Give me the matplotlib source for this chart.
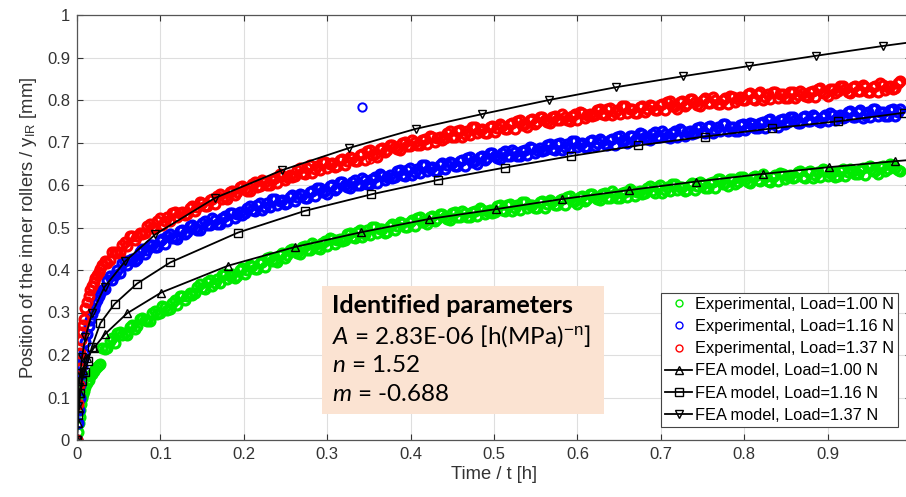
import matplotlib
matplotlib.use("Agg")
import matplotlib.pyplot as plt
from matplotlib.patches import Rectangle
from matplotlib.ticker import FuncFormatter

plt.rcParams['font.family'] = ['Liberation Sans', 'DejaVu Sans']
plt.rcParams['mathtext.fontset'] = 'custom'
plt.rcParams['mathtext.rm'] = 'Liberation Sans'
plt.rcParams['mathtext.it'] = 'Lato:italic'
plt.rcParams['mathtext.bf'] = 'Liberation Sans:bold'

# ---- experimental samples (time in h, position in mm) ----
t_exp = [0.000, 0.001, 0.002, 0.003, 0.004, 0.005, 0.006, 0.007, 0.008, 0.010,
         0.012, 0.014, 0.016, 0.018, 0.020, 0.022, 0.024, 0.026, 0.028,
         0.030, 0.036, 0.042, 0.048, 0.054, 0.060, 0.066, 0.072, 0.078, 0.084,
         0.090, 0.096, 0.102, 0.108, 0.114, 0.120, 0.126, 0.132, 0.138, 0.144,
         0.150, 0.156, 0.162, 0.168, 0.174, 0.180, 0.186, 0.192, 0.198, 0.204,
         0.210, 0.216, 0.222, 0.228, 0.234, 0.240, 0.246, 0.252, 0.258, 0.264,
         0.270, 0.276, 0.282, 0.288, 0.294, 0.300, 0.306, 0.312, 0.318, 0.324,
         0.330, 0.336, 0.342, 0.348, 0.354, 0.360, 0.366, 0.372, 0.378, 0.384,
         0.390, 0.396, 0.402, 0.408, 0.414, 0.420, 0.426, 0.432, 0.438, 0.444,
         0.450, 0.456, 0.462, 0.468, 0.474, 0.480, 0.486, 0.492, 0.498, 0.504,
         0.510, 0.516, 0.522, 0.528, 0.534, 0.540, 0.546, 0.552, 0.558, 0.564,
         0.570, 0.576, 0.582, 0.588, 0.594, 0.600, 0.606, 0.612, 0.618, 0.624,
         0.630, 0.636, 0.642, 0.648, 0.654, 0.660, 0.666, 0.672, 0.678, 0.684,
         0.690, 0.696, 0.702, 0.708, 0.714, 0.720, 0.726, 0.732, 0.738, 0.744,
         0.750, 0.756, 0.762, 0.768, 0.774, 0.780, 0.786, 0.792, 0.798, 0.804,
         0.810, 0.816, 0.822, 0.828, 0.834, 0.840, 0.846, 0.852, 0.858, 0.864,
         0.870, 0.876, 0.882, 0.888, 0.894, 0.900, 0.906, 0.912, 0.918, 0.924,
         0.930, 0.936, 0.942, 0.948, 0.954, 0.960, 0.966, 0.972, 0.978, 0.984]

y_exp_100 = [0.000, 0.020, 0.040, 0.055, 0.070, 0.085, 0.100, 0.108, 0.115, 0.125,
             0.134, 0.142, 0.150, 0.156, 0.162, 0.166, 0.171, 0.176, 0.180,
             0.217, 0.217, 0.239, 0.251, 0.247, 0.248, 0.271, 0.269, 0.286, 0.280,
             0.298, 0.296, 0.316, 0.307, 0.322, 0.318, 0.339, 0.340, 0.342, 0.361,
             0.357, 0.372, 0.362, 0.378, 0.389, 0.378, 0.390, 0.385, 0.404, 0.401,
             0.409, 0.403, 0.420, 0.428, 0.421, 0.418, 0.439, 0.435, 0.450, 0.440,
             0.453, 0.447, 0.463, 0.451, 0.463, 0.456, 0.473, 0.471, 0.469, 0.485,
             0.477, 0.490, 0.478, 0.493, 0.501, 0.488, 0.497, 0.490, 0.508, 0.503,
             0.510, 0.502, 0.517, 0.522, 0.513, 0.508, 0.526, 0.520, 0.532, 0.520,
             0.533, 0.525, 0.539, 0.525, 0.536, 0.526, 0.542, 0.539, 0.535, 0.550,
             0.541, 0.552, 0.539, 0.552, 0.560, 0.545, 0.554, 0.546, 0.562, 0.556,
             0.561, 0.552, 0.567, 0.571, 0.562, 0.556, 0.574, 0.568, 0.579, 0.567,
             0.579, 0.570, 0.585, 0.570, 0.581, 0.571, 0.587, 0.583, 0.579, 0.594,
             0.585, 0.596, 0.582, 0.596, 0.603, 0.588, 0.596, 0.588, 0.604, 0.597,
             0.603, 0.594, 0.608, 0.613, 0.603, 0.597, 0.615, 0.608, 0.620, 0.607,
             0.620, 0.611, 0.625, 0.610, 0.620, 0.610, 0.625, 0.621, 0.617, 0.631,
             0.620, 0.631, 0.617, 0.630, 0.637, 0.622, 0.630, 0.621, 0.637, 0.630,
             0.634, 0.625, 0.639, 0.643, 0.633, 0.627, 0.645, 0.638, 0.648, 0.635]

y_exp_116 = [0.000, 0.040, 0.070, 0.100, 0.130, 0.155, 0.175, 0.190, 0.205, 0.230,
             0.250, 0.268, 0.283, 0.297, 0.309, 0.320, 0.330, 0.339, 0.347,
             0.352, 0.377, 0.376, 0.400, 0.416, 0.411, 0.427, 0.426, 0.449, 0.448,
             0.459, 0.455, 0.474, 0.481, 0.475, 0.472, 0.494, 0.490, 0.505, 0.495,
             0.511, 0.505, 0.522, 0.509, 0.522, 0.515, 0.533, 0.532, 0.530, 0.547,
             0.540, 0.553, 0.541, 0.557, 0.566, 0.554, 0.564, 0.557, 0.576, 0.571,
             0.577, 0.570, 0.586, 0.592, 0.583, 0.579, 0.599, 0.594, 0.606, 0.595,
             0.608, 0.600, 0.616, 0.602, 0.614, 0.605, 0.622, 0.619, 0.617, 0.632,
             0.624, 0.636, 0.624, 0.638, 0.646, 0.633, 0.642, 0.634, 0.651, 0.646,
             0.652, 0.644, 0.659, 0.664, 0.655, 0.650, 0.669, 0.663, 0.675, 0.663,
             0.676, 0.668, 0.683, 0.669, 0.679, 0.670, 0.686, 0.683, 0.680, 0.694,
             0.684, 0.696, 0.682, 0.696, 0.703, 0.689, 0.698, 0.689, 0.706, 0.699,
             0.704, 0.695, 0.709, 0.714, 0.704, 0.698, 0.716, 0.710, 0.721, 0.708,
             0.721, 0.712, 0.726, 0.712, 0.722, 0.712, 0.727, 0.724, 0.720, 0.734,
             0.725, 0.736, 0.723, 0.736, 0.743, 0.728, 0.736, 0.728, 0.744, 0.737,
             0.743, 0.734, 0.749, 0.753, 0.743, 0.737, 0.755, 0.749, 0.760, 0.747,
             0.760, 0.751, 0.765, 0.750, 0.760, 0.750, 0.765, 0.761, 0.757, 0.771,
             0.761, 0.772, 0.758, 0.771, 0.778, 0.763, 0.771, 0.762, 0.778, 0.771]

y_exp_137 = [0.000, 0.085, 0.130, 0.170, 0.205, 0.235, 0.255, 0.270, 0.285, 0.310,
             0.325, 0.340, 0.352, 0.363, 0.372, 0.381, 0.389, 0.396, 0.402,
             0.411, 0.417, 0.443, 0.439, 0.458, 0.457, 0.479, 0.481, 0.484, 0.503,
             0.499, 0.516, 0.507, 0.524, 0.535, 0.524, 0.536, 0.531, 0.551, 0.548,
             0.557, 0.551, 0.568, 0.575, 0.568, 0.566, 0.587, 0.583, 0.597, 0.587,
             0.602, 0.596, 0.612, 0.600, 0.612, 0.605, 0.622, 0.620, 0.619, 0.636,
             0.628, 0.641, 0.629, 0.644, 0.654, 0.641, 0.651, 0.644, 0.662, 0.657,
             0.664, 0.657, 0.673, 0.679, 0.671, 0.667, 0.687, 0.682, 0.695, 0.684,
             0.698, 0.691, 0.707, 0.693, 0.705, 0.696, 0.712, 0.710, 0.707, 0.723,
             0.714, 0.726, 0.713, 0.728, 0.736, 0.722, 0.731, 0.723, 0.740, 0.734,
             0.740, 0.732, 0.746, 0.751, 0.742, 0.736, 0.755, 0.749, 0.760, 0.748,
             0.760, 0.752, 0.766, 0.752, 0.762, 0.753, 0.769, 0.765, 0.762, 0.776,
             0.766, 0.778, 0.764, 0.777, 0.785, 0.770, 0.779, 0.770, 0.786, 0.780,
             0.785, 0.776, 0.791, 0.795, 0.785, 0.779, 0.797, 0.791, 0.802, 0.789,
             0.801, 0.792, 0.806, 0.791, 0.801, 0.791, 0.807, 0.803, 0.799, 0.813,
             0.803, 0.814, 0.800, 0.813, 0.820, 0.805, 0.813, 0.804, 0.820, 0.812,
             0.817, 0.808, 0.822, 0.826, 0.816, 0.809, 0.827, 0.821, 0.832, 0.819,
             0.830, 0.821, 0.835, 0.820, 0.830, 0.820, 0.835, 0.831, 0.827, 0.841]

# in-between samples of the same runs
t_exp_b = [0.033, 0.039, 0.045, 0.051, 0.057, 0.063, 0.069, 0.075, 0.081, 0.087,
           0.093, 0.099, 0.105, 0.111, 0.117, 0.123, 0.129, 0.135, 0.141, 0.147,
           0.153, 0.159, 0.165, 0.171, 0.177, 0.183, 0.189, 0.195, 0.201, 0.207,
           0.213, 0.219, 0.225, 0.231, 0.237, 0.243, 0.249, 0.255, 0.261, 0.267,
           0.273, 0.279, 0.285, 0.291, 0.297, 0.303, 0.309, 0.315, 0.321, 0.327,
           0.333, 0.339, 0.345, 0.351, 0.357, 0.363, 0.369, 0.375, 0.381, 0.387,
           0.393, 0.399, 0.405, 0.411, 0.417, 0.423, 0.429, 0.435, 0.441, 0.447,
           0.453, 0.459, 0.465, 0.471, 0.477, 0.483, 0.489, 0.495, 0.501, 0.507,
           0.513, 0.519, 0.525, 0.531, 0.537, 0.543, 0.549, 0.555, 0.561, 0.567,
           0.573, 0.579, 0.585, 0.591, 0.597, 0.603, 0.609, 0.615, 0.621, 0.627,
           0.633, 0.639, 0.645, 0.651, 0.657, 0.663, 0.669, 0.675, 0.681, 0.687,
           0.693, 0.699, 0.705, 0.711, 0.717, 0.723, 0.729, 0.735, 0.741, 0.747,
           0.753, 0.759, 0.765, 0.771, 0.777, 0.783, 0.789, 0.795, 0.801, 0.807,
           0.813, 0.819, 0.825, 0.831, 0.837, 0.843, 0.849, 0.855, 0.861, 0.867,
           0.873, 0.879, 0.885, 0.891, 0.897, 0.903, 0.909, 0.915, 0.921, 0.927,
           0.933, 0.939, 0.945, 0.951, 0.957, 0.963, 0.969, 0.975, 0.981, 0.987]

y_exp_b_100 = [0.213, 0.233, 0.228, 0.255, 0.252, 0.267, 0.262, 0.284, 0.282, 0.280,
               0.304, 0.298, 0.313, 0.308, 0.329, 0.339, 0.330, 0.345, 0.346, 0.367,
               0.356, 0.377, 0.370, 0.370, 0.391, 0.387, 0.382, 0.400, 0.391, 0.411,
               0.402, 0.416, 0.407, 0.431, 0.424, 0.436, 0.429, 0.448, 0.444, 0.438,
               0.457, 0.447, 0.459, 0.450, 0.468, 0.475, 0.462, 0.474, 0.471, 0.488,
               0.475, 0.494, 0.485, 0.483, 0.501, 0.496, 0.488, 0.504, 0.493, 0.512,
               0.502, 0.514, 0.503, 0.524, 0.515, 0.524, 0.515, 0.532, 0.525, 0.518,
               0.536, 0.524, 0.534, 0.524, 0.539, 0.545, 0.531, 0.541, 0.537, 0.553,
               0.538, 0.556, 0.545, 0.542, 0.559, 0.553, 0.545, 0.559, 0.547, 0.564,
               0.552, 0.564, 0.552, 0.573, 0.563, 0.572, 0.563, 0.579, 0.572, 0.564,
               0.581, 0.570, 0.579, 0.569, 0.584, 0.590, 0.575, 0.585, 0.581, 0.597,
               0.582, 0.599, 0.589, 0.585, 0.602, 0.595, 0.587, 0.601, 0.588, 0.606,
               0.594, 0.605, 0.594, 0.614, 0.604, 0.613, 0.603, 0.620, 0.612, 0.605,
               0.622, 0.610, 0.619, 0.608, 0.623, 0.628, 0.613, 0.623, 0.618, 0.633,
               0.617, 0.634, 0.623, 0.619, 0.636, 0.629, 0.620, 0.634, 0.621, 0.638,
               0.625, 0.636, 0.624, 0.644, 0.634, 0.643, 0.633, 0.649, 0.641, 0.632]

y_exp_b_116 = [0.356, 0.387, 0.388, 0.394, 0.421, 0.423, 0.422, 0.443, 0.437, 0.460,
               0.453, 0.469, 0.461, 0.485, 0.478, 0.491, 0.484, 0.504, 0.499, 0.495,
               0.515, 0.506, 0.518, 0.509, 0.527, 0.535, 0.523, 0.536, 0.533, 0.551,
               0.539, 0.558, 0.549, 0.548, 0.567, 0.563, 0.556, 0.572, 0.562, 0.580,
               0.570, 0.583, 0.573, 0.594, 0.586, 0.597, 0.589, 0.606, 0.600, 0.593,
               0.611, 0.601, 0.611, 0.602, 0.618, 0.625, 0.611, 0.623, 0.619, 0.636,
               0.622, 0.641, 0.631, 0.628, 0.647, 0.641, 0.633, 0.648, 0.637, 0.655,
               0.644, 0.656, 0.645, 0.666, 0.657, 0.667, 0.658, 0.675, 0.668, 0.661,
               0.679, 0.668, 0.678, 0.668, 0.683, 0.689, 0.675, 0.686, 0.682, 0.697,
               0.682, 0.700, 0.689, 0.686, 0.703, 0.697, 0.689, 0.703, 0.691, 0.708,
               0.696, 0.707, 0.695, 0.716, 0.706, 0.715, 0.705, 0.722, 0.714, 0.706,
               0.724, 0.712, 0.721, 0.711, 0.726, 0.731, 0.716, 0.727, 0.722, 0.737,
               0.723, 0.740, 0.730, 0.726, 0.743, 0.736, 0.727, 0.742, 0.729, 0.746,
               0.735, 0.746, 0.735, 0.755, 0.745, 0.754, 0.744, 0.761, 0.753, 0.745,
               0.763, 0.751, 0.760, 0.749, 0.764, 0.769, 0.754, 0.764, 0.759, 0.774,
               0.759, 0.776, 0.765, 0.761, 0.778, 0.771, 0.762, 0.776, 0.763, 0.780]

y_exp_b_137 = [0.421, 0.423, 0.443, 0.442, 0.466, 0.479, 0.471, 0.487, 0.488, 0.509,
               0.500, 0.522, 0.516, 0.516, 0.537, 0.534, 0.529, 0.547, 0.538, 0.559,
               0.550, 0.564, 0.555, 0.578, 0.572, 0.584, 0.577, 0.596, 0.591, 0.586,
               0.606, 0.597, 0.608, 0.600, 0.617, 0.625, 0.612, 0.624, 0.622, 0.640,
               0.627, 0.646, 0.637, 0.635, 0.655, 0.650, 0.643, 0.659, 0.648, 0.667,
               0.657, 0.670, 0.660, 0.682, 0.674, 0.685, 0.677, 0.695, 0.689, 0.683,
               0.702, 0.692, 0.702, 0.693, 0.709, 0.715, 0.702, 0.713, 0.710, 0.726,
               0.712, 0.730, 0.721, 0.718, 0.736, 0.730, 0.722, 0.737, 0.725, 0.743,
               0.732, 0.744, 0.732, 0.753, 0.744, 0.753, 0.744, 0.761, 0.753, 0.746,
               0.763, 0.752, 0.761, 0.751, 0.766, 0.772, 0.758, 0.768, 0.764, 0.779,
               0.764, 0.782, 0.771, 0.767, 0.785, 0.778, 0.770, 0.784, 0.771, 0.789,
               0.777, 0.788, 0.777, 0.797, 0.787, 0.796, 0.786, 0.803, 0.795, 0.787,
               0.804, 0.792, 0.801, 0.790, 0.805, 0.810, 0.796, 0.806, 0.801, 0.816,
               0.801, 0.818, 0.807, 0.803, 0.820, 0.813, 0.804, 0.818, 0.804, 0.821,
               0.809, 0.820, 0.808, 0.828, 0.817, 0.826, 0.816, 0.833, 0.825, 0.816,
               0.833, 0.821, 0.830, 0.819, 0.834, 0.839, 0.824, 0.834, 0.829, 0.844]

# stray readings
outlier_t_116 = [0.342]
outlier_y_116 = [0.784]
outlier_t_137 = [0.351]
outlier_y_137 = [0.661]

# ---- FEA model curves ----
fea_t_100 = [0.0, 0.001, 0.002, 0.004, 0.007, 0.012, 0.020, 0.034, 0.060, 0.101,
             0.181, 0.261, 0.341, 0.422, 0.502, 0.582, 0.662, 0.742, 0.822, 0.902,
             0.981, 1.061]
fea_y_100 = [0.0, 0.040, 0.075, 0.110, 0.165, 0.193, 0.216, 0.250, 0.298, 0.347,
             0.410, 0.454, 0.489, 0.520, 0.543, 0.567, 0.588, 0.608, 0.626, 0.642,
             0.656, 0.669]

fea_t_116 = [0.0, 0.001, 0.003, 0.006, 0.009, 0.013, 0.018, 0.028, 0.045, 0.072,
             0.112, 0.193, 0.273, 0.353, 0.433, 0.513, 0.592, 0.673, 0.753, 0.833,
             0.913, 0.992]
fea_y_116 = [0.0, 0.060, 0.110, 0.140, 0.160, 0.185, 0.220, 0.275, 0.320, 0.368,
             0.418, 0.488, 0.539, 0.578, 0.612, 0.641, 0.668, 0.693, 0.714, 0.733,
             0.750, 0.770]

fea_t_137 = [0.0, 0.001, 0.002, 0.004, 0.006, 0.010, 0.018, 0.033, 0.058, 0.094,
             0.165, 0.246, 0.326, 0.406, 0.486, 0.566, 0.646, 0.727, 0.806, 0.886,
             0.966, 1.046]
fea_y_137 = [0.0, 0.080, 0.125, 0.157, 0.195, 0.242, 0.298, 0.360, 0.421, 0.484,
             0.569, 0.635, 0.687, 0.732, 0.767, 0.800, 0.830, 0.856, 0.880, 0.904,
             0.927, 0.948]

GREEN = '#00ea00'
BLUE = '#0000ff'
RED = '#ff0000'
AXCOL = '#333333'

fig = plt.figure(figsize=(9.06, 4.97), dpi=100)
ax = fig.add_axes([77 / 906, 57 / 497, 834 / 906, 425 / 497])

exp_style = dict(linestyle='none', marker='o', mfc='none', ms=6.4, mew=2.3)
ax.plot(t_exp, y_exp_100, mec=GREEN, label='Experimental, Load=1.00 N', **exp_style)
ax.plot(t_exp_b, y_exp_b_100, mec=GREEN, **exp_style)
ax.plot(t_exp, y_exp_116, mec=BLUE, label='Experimental, Load=1.16 N', **exp_style)
ax.plot(t_exp_b, y_exp_b_116, mec=BLUE, **exp_style)
ax.plot(t_exp, y_exp_137, mec=RED, label='Experimental, Load=1.37 N', **exp_style)
ax.plot(t_exp_b, y_exp_b_137, mec=RED, **exp_style)
out_style = dict(linestyle='none', marker='o', mfc='none', ms=6, mew=1.4)
ax.plot(outlier_t_116, outlier_y_116, mec=BLUE, **out_style)
ax.plot(outlier_t_137, outlier_y_137, mec=RED, **out_style)

fea_style = dict(color='black', lw=1.3, mfc='none', mec='black', ms=5.2, mew=1.0)
ax.plot(fea_t_100, fea_y_100, marker='^', label='FEA model, Load=1.00 N', **fea_style)
ax.plot(fea_t_116, fea_y_116, marker='s', label='FEA model, Load=1.16 N', **fea_style)
ax.plot(fea_t_137, fea_y_137, marker='v', label='FEA model, Load=1.37 N', **fea_style)

ax.set_xlim(0, 1)
ax.set_ylim(0, 1)
# the picture is cut just before t = 1, so its tick is not shown
ax.set_xticks([0, 0.1, 0.2, 0.3, 0.4, 0.5, 0.6, 0.7, 0.8, 0.9])
ax.set_yticks([0, 0.1, 0.2, 0.3, 0.4, 0.5, 0.6, 0.7, 0.8, 0.9, 1.0])
fmt = FuncFormatter(lambda v, p: '%g' % round(v, 2))
ax.xaxis.set_major_formatter(fmt)
ax.yaxis.set_major_formatter(fmt)
ax.grid(True, color='#dedede', lw=0.8)
ax.set_axisbelow(True)
ax.tick_params(direction='in', top=True, right=True, length=4, width=0.8,
               labelsize=12, colors=AXCOL, pad=5)
for s in ax.spines.values():
    s.set_color('#555555')
    s.set_linewidth(0.9)

ax.set_xlabel('Time / t [h]', fontsize=13.2, color=AXCOL, labelpad=3)
ax.set_ylabel(r'Position of the inner rollers / y$_{\mathrm{IR}}$ [mm]',
              fontsize=13.2, color=AXCOL, labelpad=6)

# parameter box
ax.add_patch(Rectangle((0.2938, 0.0612), 0.3381, 0.3012, transform=ax.transAxes,
                       facecolor='#fbe3d2', edgecolor='none', zorder=5))
box_font = dict(family='Lato', fontsize=17.5, color='black', transform=ax.transAxes,
                zorder=6, va='baseline')
ax.text(0.3058, 0.2988, 'Identified parameters', fontweight='bold',
        **dict(box_font, fontsize=18.2))
ax.text(0.3058, 0.2259, r'$A$ = 2.83E-06 [h(MPa)$^{\mathrm{-n}}$]', **box_font)
ax.text(0.3058, 0.1600, r'$n$ = 1.52', **box_font)
ax.text(0.3058, 0.0918, r'$m$ = -0.688', **box_font)

leg = ax.legend(loc='lower right', bbox_to_anchor=(898 / 906, 70 / 497),
                bbox_transform=fig.transFigure, borderaxespad=0, fontsize=11.8,
                frameon=True, fancybox=False, edgecolor='#444444', framealpha=1,
                handlelength=1.65, handletextpad=0.15, borderpad=0.25,
                labelspacing=0.44, numpoints=1)
leg.get_frame().set_linewidth(0.8)
for h in leg.legend_handles[:3]:
    h.set_markersize(5)
    h.set_markeredgewidth(1.0)

fig.savefig('out.png', dpi=100)
